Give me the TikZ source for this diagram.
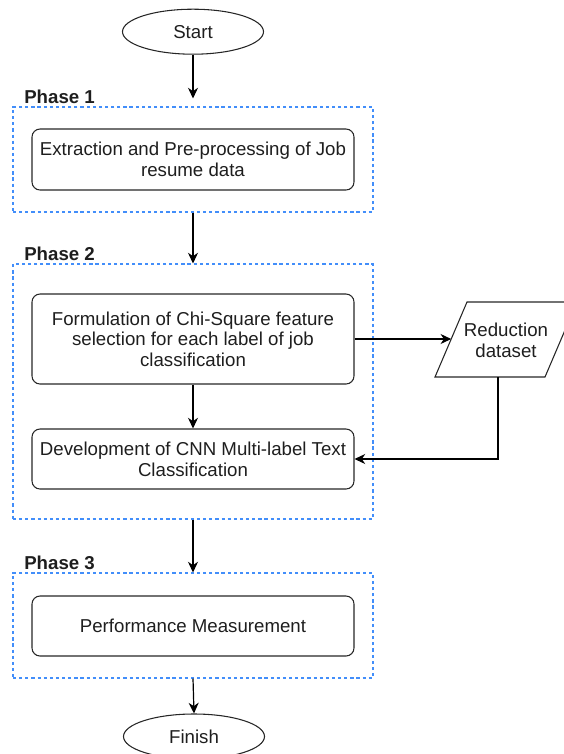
\documentclass[tikz,border=0pt]{standalone}
\usepackage{fontspec}
\setmainfont{Liberation Sans}
\usetikzlibrary{arrows.meta,calc,shapes.geometric}
\definecolor{phaseblue}{RGB}{66,142,250}
\definecolor{ink}{RGB}{30,30,30}
\begin{document}
\begin{tikzpicture}[
  x=0.75pt, y=-0.75pt,
  font=\fontsize{14}{15.5}\selectfont, text=ink,
  phase/.style={rectangle, draw=phaseblue, line width=0.8pt,
    dash pattern=on 2.4pt off 2.2pt, minimum width=270pt, inner sep=0pt},
  phaselabel/.style={anchor=base west, inner sep=0pt,
    font=\fontsize{14}{15.5}\selectfont\bfseries},
  process/.style={rectangle, draw=black!85, line width=0.8pt,
    rounded corners=6pt, minimum width=241.5pt, align=center, inner sep=0pt},
  terminal/.style={ellipse, draw=black!85, line width=0.8pt,
    minimum width=105.75pt, minimum height=33.75pt, inner sep=0pt},
  outline/.style={draw=black!85, line width=0.8pt, line join=miter},
  arr/.style={draw=black, line width=0.9pt,
    -{Stealth[length=8pt,width=7.5pt,inset=2.5pt]}}
]
\useasboundingbox (0,0) rectangle (564,754);

% phase containers and their titles
\node[phase, minimum height=78.75pt] (ph1) at (193,159.5) {};
\node[phaselabel] (ph1lbl) at (24,103.5) {Phase 1};
\node[phase, minimum height=191.25pt] (ph2) at (193,391.5) {};
\node[phaselabel] (ph2lbl) at (24,260.5) {Phase 2};
\node[phase, minimum height=78.75pt] (ph3) at (193,625.5) {};
\node[phaselabel] (ph3lbl) at (24,569.5) {Phase 3};

% start / finish terminals
\node[terminal] (start) at (193,31.7) {Start};
\node[terminal] (finish) at (194,736.5) {Finish};

% process steps
\node[process, minimum height=45.75pt] (ext) at (193,159.5)
  {Extraction and Pre-processing of Job\\resume data};
\node[process, minimum height=67.5pt] (chi) at (193,339)
  {Formulation of Chi-Square feature\\selection for each label of job\\classification};
\node[process, minimum height=45pt] (cnn) at (193,459)
  {Development of CNN Multi-label Text\\Classification};
\node[process, minimum height=45pt] (perf) at (193,626)
  {Performance Measurement};

% reduced dataset: parallelogram data symbol
\coordinate (redbl) at (435,377);
\coordinate (redtl) at (467,302);
\coordinate (redtr) at (577,302);
\coordinate (redbr) at (545,377);
\draw[outline] (redbl) -- (redtl) -- (redtr) -- (redbr) -- cycle;
\node[align=center, inner sep=0pt] (red) at (506,340) {Reduction\\dataset};
\coordinate (redin) at ($(redbl)!0.507!(redtl)$);
\coordinate (redout) at (498,377);

% flow
\draw[arr] (start.south) -- ([yshift=6pt]ph1.north);
\draw[arr] (ph1.south) -- (ph2.north);
\draw[arr] (chi.south) -- (cnn.north);
\draw[arr] (chi.east) -- (chi.east -| redin);
\draw[arr] (redout) |- (cnn.east);
\draw[arr] (ph2.south) -- (ph3.north);
\draw[arr] (ph3.south) -- (finish.north);
\end{tikzpicture}
\end{document}
